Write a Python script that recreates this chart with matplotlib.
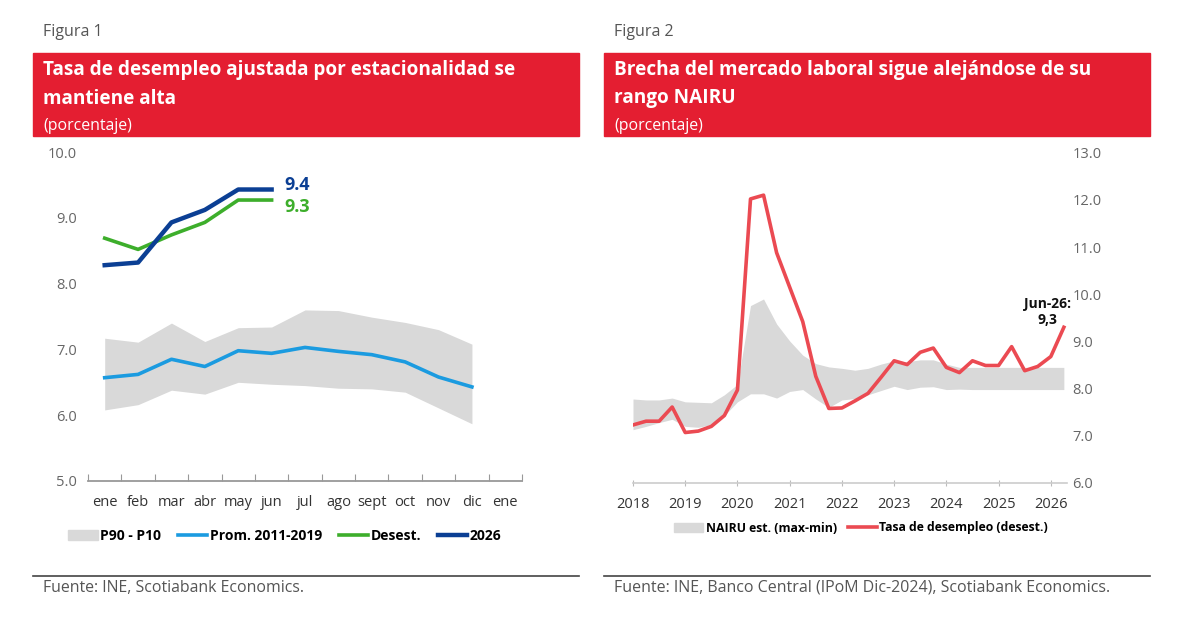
import matplotlib
matplotlib.use('Agg')
import matplotlib.pyplot as plt
import numpy as np
from matplotlib.patches import Rectangle, Patch
from matplotlib.lines import Line2D

plt.rcParams['font.family'] = ['Open Sans', 'DejaVu Sans']
plt.rcParams['font.size'] = 10.5

# ---- datos figura 1 ----
meses = ['ene', 'feb', 'mar', 'abr', 'may', 'jun', 'jul', 'ago', 'sept', 'oct', 'nov', 'dic', 'ene']
p90 = [7.17, 7.11, 7.40, 7.12, 7.33, 7.34, 7.60, 7.59, 7.49, 7.41, 7.30, 7.08]
p10 = [6.08, 6.16, 6.38, 6.32, 6.50, 6.47, 6.45, 6.41, 6.40, 6.35, 6.11, 5.87]
prom = [6.57, 6.62, 6.85, 6.74, 6.98, 6.94, 7.03, 6.97, 6.92, 6.81, 6.58, 6.43]
desest = [8.69, 8.52, 8.74, 8.93, 9.27, 9.27]
y2026 = [8.28, 8.32, 8.93, 9.12, 9.43, 9.43]

# ---- datos figura 2 (trimestral) ----
trimestres = np.arange(2018, 2026.26, 0.25)
tasa = [7.23, 7.31, 7.31, 7.61, 7.07, 7.10, 7.20, 7.43, 7.97, 12.02, 12.10, 10.88,
        10.15, 9.42, 8.26, 7.58, 7.59, 7.74, 7.90, 8.24, 8.59, 8.51, 8.77, 8.86,
        8.45, 8.34, 8.59, 8.49, 8.49, 8.89, 8.38, 8.47, 8.68, 9.30]
nairu_max = [7.78, 7.76, 7.76, 7.80, 7.72, 7.71, 7.70, 7.87, 8.09, 9.76, 9.90, 9.37,
             9.01, 8.71, 8.53, 8.46, 8.43, 8.39, 8.43, 8.52, 8.59, 8.57, 8.61, 8.61,
             8.52, 8.45, 8.45, 8.45, 8.45, 8.45, 8.45, 8.45, 8.45, 8.45]
nairu_min = [7.13, 7.20, 7.28, 7.35, 7.20, 7.18, 7.24, 7.43, 7.72, 7.89, 7.89, 7.80,
             7.94, 7.98, 7.78, 7.60, 7.76, 7.79, 7.87, 7.96, 8.05, 7.98, 8.03, 8.04,
             7.98, 7.99, 7.98, 7.98, 7.98, 7.98, 7.98, 7.98, 7.98, 7.98]

# colores
rojo = '#E41E31'
gris_banda = '#D9D9D9'
celeste = '#1B9BE0'
verde = '#3DAE2B'
azul = '#0B3F94'
rojo_linea = '#EB4A52'
gris_txt = '#666666'

W, H = 1181, 635
fig = plt.figure(figsize=(W / 100, H / 100), dpi=100)


def fx(px):
    return px / W


def fy(py):
    return 1 - py / H


# encabezados
for x0, x1, fig_txt, titulo in [
        (33, 579, 'Figura 1', 'Tasa de desempleo ajustada por estacionalidad se\nmantiene alta'),
        (604, 1150, 'Figura 2', 'Brecha del mercado laboral sigue alejándose de su\nrango NAIRU')]:
    fig.text(fx(x0 + 10), fy(32), fig_txt, fontsize=11.5, color='#555555', va='center')
    fig.patches.append(Rectangle((fx(x0), fy(136)), fx(x1 - x0), (136 - 53) / H,
                                 transform=fig.transFigure, color=rojo, zorder=0))
    fig.text(fx(x0 + 10), fy(84), titulo, fontsize=13.7, color='white', fontweight='bold',
             va='center', linespacing=1.6)
    fig.text(fx(x0 + 10), fy(126), '(porcentaje)', fontsize=11.4, color='white', va='center')
    fig.add_artist(Line2D([fx(x0), fx(x1)], [fy(576), fy(576)], color='#444444', lw=1.2))

fig.text(fx(43), fy(588), 'Fuente: INE, Scotiabank Economics.', fontsize=11.4, color='#555555', va='center')
fig.text(fx(614), fy(588), 'Fuente: INE, Banco Central (IPoM Dic-2024), Scotiabank Economics.',
         fontsize=11.5, color='#555555', va='center')

# ---------------- figura 1 ----------------
ax1 = fig.add_axes([fx(88), fy(481), fx(522 - 88), (481 - 152) / H])
x = np.arange(len(p90))
ax1.fill_between(x, p10, p90, color=gris_banda, lw=0)
ax1.plot(x, prom, color=celeste, lw=2.6)
ax1.plot(np.arange(len(desest)), desest, color=verde, lw=2.6)
ax1.plot(np.arange(len(y2026)), y2026, color=azul, lw=3.2)
ax1.annotate('9.4', (len(y2026) - 1, y2026[-1]), xytext=(13, 5), textcoords='offset pixels',
             color=azul, fontsize=13, fontweight='bold', va='center')
ax1.annotate('9.3', (len(desest) - 1, desest[-1]), xytext=(13, -7), textcoords='offset pixels',
             color=verde, fontsize=13, fontweight='bold', va='center')
ax1.set_xlim(-0.5, len(meses) - 0.5)
ax1.set_ylim(5, 10)
ax1.set_yticks(np.arange(5, 10.1, 1))
ax1.set_yticklabels([f'{v:.1f}' for v in np.arange(5, 10.1, 1)])
ax1.set_xticks(np.arange(-0.5, len(meses), 1))
ax1.set_xticklabels([])
ax1.set_xticks(np.arange(len(meses)), minor=True)
ax1.set_xticklabels(meses, minor=True)
ax1.tick_params(axis='x', which='major', length=5, color='#999999', direction='in')
ax1.tick_params(axis='x', which='minor', length=0, pad=10, labelsize=10.5, labelcolor='#333333')
ax1.tick_params(axis='y', length=0, pad=8, labelcolor=gris_txt, labelsize=10.5)
for s in ['top', 'right', 'left']:
    ax1.spines[s].set_visible(False)
ax1.spines['bottom'].set_color('#999999')
ax1.spines['bottom'].set_linewidth(1.3)

h1 = [Patch(color=gris_banda), Line2D([], [], color=celeste, lw=2.6),
      Line2D([], [], color=verde, lw=2.6), Line2D([], [], color=azul, lw=3.2)]
fig.legend(h1, ['P90 - P10', 'Prom. 2011-2019', 'Desest.', '2026'], loc='center',
           bbox_to_anchor=(fx(285), fy(536)), ncol=4, frameon=False, handlelength=2.1,
           handletextpad=0.2, columnspacing=1.2, prop={'weight': 'bold', 'size': 10})

# ---------------- figura 2 ----------------
ax2 = fig.add_axes([fx(633), fy(483), fx(1067 - 633), (483 - 152.7) / H])
ax2.fill_between(trimestres, nairu_min, nairu_max, color=gris_banda, lw=0)
ax2.plot(trimestres, tasa, color=rojo_linea, lw=2.6)
ax2.annotate('Jun-26:\n9,3', (trimestres[-1], tasa[-1]), xytext=(-16, 15), textcoords='offset pixels',
             ha='center', va='center', fontsize=10, fontweight='bold', color='#111111')
ax2.set_xlim(2018, 2026.31)
ax2.set_ylim(6, 13)
ax2.set_xticks(np.arange(2018, 2027))
ax2.set_yticks(np.arange(6, 13.1, 1))
ax2.set_yticklabels([f'{v:.1f}' for v in np.arange(6, 13.1, 1)])
ax2.yaxis.tick_right()
ax2.tick_params(axis='y', length=0, pad=4, labelcolor=gris_txt, labelsize=10.5)
ax2.tick_params(axis='x', length=4, color='#BBBBBB', direction='inout', pad=8,
                labelsize=10.5, labelcolor='#333333')
for s in ['top', 'right', 'left']:
    ax2.spines[s].set_visible(False)
ax2.spines['bottom'].set_color('#CCCCCC')
ax2.spines['bottom'].set_linewidth(1.2)

h2 = [Patch(color=gris_banda), Line2D([], [], color=rojo_linea, lw=2.6)]
fig.legend(h2, ['NAIRU est. (max-min)', 'Tasa de desempleo (desest.)'], loc='center',
           bbox_to_anchor=(fx(861), fy(528)), ncol=2, frameon=False, handlelength=2.4,
           handletextpad=0.2, columnspacing=0.9, prop={'weight': 'bold', 'size': 8.8})

fig.savefig('out.png', dpi=100)
